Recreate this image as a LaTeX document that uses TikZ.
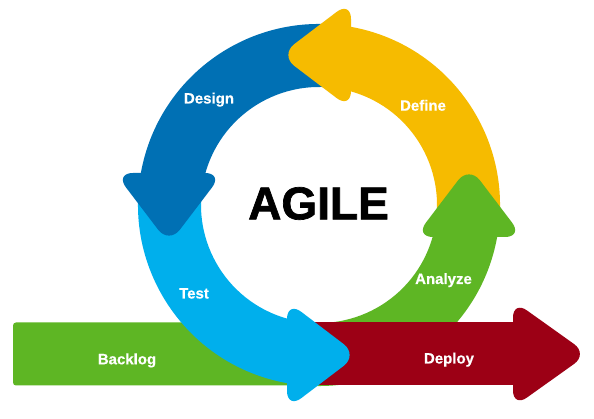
\documentclass[tikz,border=0pt]{standalone}
\usepackage{fontspec}
\setmainfont{Liberation Sans}
\newfontfamily\agilefont{Liberation Sans Bold}[FakeBold=1.5]
\newfontfamily\lblfont{Liberation Sans Bold}[FakeBold=0.4]
\definecolor{cblue}{RGB}{0,112,180}
\definecolor{cyellow}{RGB}{246,187,0}
\definecolor{cgreen}{RGB}{94,182,36}
\definecolor{clblue}{RGB}{0,175,236}
\definecolor{cred}{RGB}{156,0,21}
\begin{document}
\begin{tikzpicture}[x=1pt,y=1pt]
\tikzset{lbl/.style={text=white, font=\lblfont\fontsize{15}{15}\selectfont, inner sep=0, anchor=base}}
\useasboundingbox (0,0) rectangle (594,419);
\fill[white] (0,0) rectangle (594,419);
\coordinate (C) at (319,214);
% backlog bar
\fill[cgreen, rounded corners=3] (13,33.5) rectangle (320,96.5);
% ring bands
\foreach \p/\c in {90/cyellow,180/cblue,270/clblue,0/cgreen}{
  \fill[\c, shift={(C)}] ({\p-100.18}:181) arc[start angle={\p-100.18}, end angle={\p-10.18}, radius=181]
    -- ({\p-15.73}:118) arc[start angle={\p-15.73}, end angle={\p-105.73}, radius=118] -- cycle;
}
% deploy arrow
\fill[cred] (300,33.5) rectangle (514,96.5);
\fill[cred, rounded corners=17] (513,11.5) -- (513,118.5) -- (588,65) -- cycle;
% ring heads
\foreach \p/\c in {90/cyellow,180/cblue,270/clblue,0/cgreen}{
  \fill[\c, shift={(C)}, rotate=\p, rounded corners=18] (96,-32) -- (204,-32) -- (150,39) -- cycle;
}
% labels
\node[lbl] (design) at (209,315.5) {Design};
\node[lbl] (define) at (423,308.3) {Define};
\node[lbl] (analyze) at (443.5,135) {Analyze};
\node[lbl] (test) at (194,120.5) {Test};
\node[lbl] (backlog) at (127,54.7) {Backlog};
\node[lbl] (deploy) at (449,55.5) {Deploy};
\node[font=\agilefont\fontsize{46}{46}\selectfont, inner sep=0] (agile) at (318.5,215.5) {AGILE};
\end{tikzpicture}
\end{document}
